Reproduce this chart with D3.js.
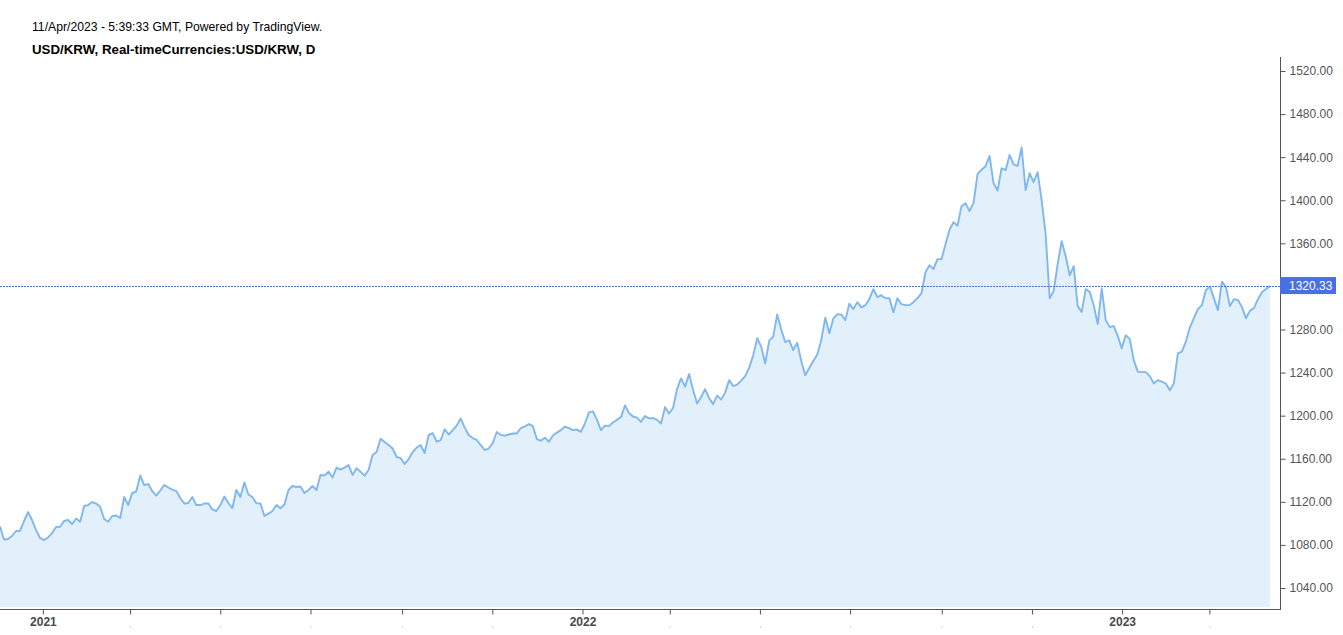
<!DOCTYPE html>
<html>
<head>
<meta charset="utf-8">
<script src="https://cdn.jsdelivr.net/npm/d3@7"></script>
<style>
  html, body { margin: 0; padding: 0; background: #ffffff; }
  svg { display: block; font-family: "Liberation Sans", Arial, sans-serif; }
</style>
</head>
<body>
<svg id="chart" width="1343" height="635"></svg>
<script>
// ---------------- DATA ----------------
const titleLine1 = "11/Apr/2023 - 5:39:33 GMT, Powered by TradingView.";
const titleLine2 = "USD/KRW, Real-timeCurrencies:USD/KRW, D";
const startDate = "2020-12-03";
const endDate = "2023-04-11";
const lastPrice = 1320.33;
const values = [
  1097, 1085.0, 1085.5, 1088.3, 1092.9, 1093.2, 1102.2, 1110.5, 1103.1, 1093.8,
  1086.4, 1084.5, 1086.9, 1091.0, 1096.6, 1096.9, 1102.2, 1103.1, 1099.4, 1104.5,
  1101.5, 1116.1, 1117.0, 1119.8, 1118.4, 1115.4, 1104.0, 1101.5, 1106.8, 1107.3,
  1105.0, 1124.5, 1117.0, 1128.2, 1129.6, 1144.5, 1135.6, 1136.5, 1130.0, 1125.8,
  1130.5, 1135.6, 1133.3, 1131.4, 1130.0, 1123.5, 1118.4, 1118.9, 1124.5, 1117.0,
  1117.0, 1118.4, 1118.6, 1112.9, 1111.5, 1117.0, 1124.9, 1118.9, 1114.2, 1131.0,
  1124.5, 1138.0, 1126.8, 1124.5, 1118.6, 1118.6, 1106.8, 1109.1, 1111.5, 1117.0,
  1114.0, 1117.5, 1131.0, 1134.7, 1133.8, 1134.2, 1128.2, 1131.0, 1134.7, 1131.0,
  1144.9, 1144.4, 1148.1, 1142.5, 1151.8, 1149.9, 1151.8, 1154.1, 1144.9, 1151.3,
  1148.0, 1144.3, 1149.5, 1163.4, 1166.2, 1178.5, 1175.5, 1172.7, 1169.5, 1161.6,
  1160.6, 1155.1, 1159.7, 1166.2, 1170.4, 1172.7, 1165.3, 1182.0, 1183.8, 1175.8,
  1177.4, 1187.3, 1182.5, 1186.6, 1190.8, 1197.3, 1188.9, 1182.0, 1179.2, 1177.4,
  1172.7, 1168.1, 1169.5, 1174.6, 1184.8, 1182.0, 1181.5, 1182.5, 1183.4, 1183.4,
  1188.5, 1190.1, 1192.2, 1190.3, 1178.3, 1176.7, 1179.6, 1175.8, 1181.5, 1184.3,
  1186.6, 1189.9, 1188.5, 1186.6, 1187.1, 1185.0, 1192.7, 1203.0, 1204.0, 1196.4,
  1186.6, 1190.8, 1190.3, 1193.6, 1196.1, 1198.7, 1209.5, 1202.4, 1199.2, 1198.2,
  1194.3, 1199.6, 1197.5, 1197.8, 1196.1, 1192.8, 1208.0, 1202.0, 1207.1, 1224.7,
  1234.6, 1227.0, 1238.6, 1223.8, 1211.3, 1217.3, 1224.7, 1216.3, 1210.7, 1218.6,
  1214.9, 1221.4, 1233.0, 1227.5, 1228.9, 1232.6, 1236.7, 1244.6, 1255.8, 1272.0,
  1264.1, 1248.5, 1269.7, 1273.4, 1294.0, 1279.9, 1268.3, 1270.0, 1260.9, 1267.7,
  1250.7, 1237.6, 1244.2, 1250.7, 1256.7, 1270.2, 1291.0, 1276.6, 1290.1, 1294.3,
  1293.8, 1288.7, 1304.0, 1298.9, 1305.4, 1300.5, 1302.6, 1308.2, 1317.5, 1310.1,
  1311.9, 1309.1, 1309.1, 1296.1, 1309.1, 1303.5, 1302.6, 1302.6, 1305.4, 1309.1,
  1313.5, 1333.2, 1339.7, 1336.0, 1345.3, 1345.3, 1359.2, 1372.7, 1379.6, 1376.4,
  1394.5, 1397.3, 1389.9, 1397.3, 1424.2, 1428.4, 1431.6, 1441.0, 1415.9, 1409.0,
  1429.7, 1427.9, 1442.0, 1433.4, 1431.8, 1449.0, 1409.4, 1425.1, 1416.8, 1426.1,
  1400.1, 1368.6, 1309.0, 1315.6, 1340.7, 1362.0, 1348.1, 1330.4, 1338.8, 1301.7,
  1296.4, 1317.5, 1315.0, 1302.6, 1285.0, 1318.0, 1288.7, 1282.2, 1283.1, 1273.9,
  1262.5, 1274.8, 1271.1, 1251.6, 1240.9, 1240.4, 1240.4, 1236.7, 1230.0, 1233.0,
  1231.5, 1229.8, 1223.5, 1230.0, 1257.8, 1259.5, 1268.8, 1281.8, 1290.5, 1298.9,
  1302.6, 1316.6, 1320.0, 1309.1, 1298.0, 1324.4, 1319.3, 1301.7, 1308.2, 1307.3,
  1300.8, 1290.5, 1297.5, 1299.8, 1308.1, 1314.6, 1317.5, 1320.33
];
const yTicks = [1040, 1080, 1120, 1160, 1200, 1240, 1280, 1320, 1360, 1400, 1440, 1480, 1520];
const xTickDates = ["2021-01-01", "2021-03-01", "2021-05-01", "2021-07-01", "2021-09-01", "2021-11-01",
  "2022-01-01", "2022-03-01", "2022-05-01", "2022-07-01", "2022-09-01", "2022-11-01",
  "2023-01-01", "2023-03-01"];
const xTickLabels = ["2021", "", "", "", "", "", "2022", "", "", "", "", "", "2023", ""];

// ---------------- LAYOUT ----------------
const svg = d3.select("#chart");
const parse = d3.utcParse("%Y-%m-%d");
const t0 = parse(startDate), t1 = parse(endDate);
const n = values.length;
const data = values.map((v, i) => ({
  date: new Date(t0.getTime() + (t1.getTime() - t0.getTime()) * i / (n - 1)),
  value: v
}));

const plotLeft = 0, plotRight = 1270, axisX = 1280;
const plotTop = 57, axisY = 609, fillBottom = 607;

const x = d3.scaleUtc().domain([t0, t1]).range([plotLeft, plotRight]);
const y = d3.scaleLinear().domain([1040, 1520]).range([588, 71]);

// area fill
const area = d3.area()
  .x(d => x(d.date))
  .y0(fillBottom)
  .y1(d => y(d.value));
svg.append("path").datum(data)
  .attr("d", area)
  .attr("fill", "#e1f0fa");

// line
const line = d3.line()
  .x(d => x(d.date))
  .y(d => y(d.value));
svg.append("path").datum(data)
  .attr("d", line)
  .attr("fill", "none")
  .attr("stroke", "#80b7ee")
  .attr("stroke-width", 1.9)
  .attr("stroke-linejoin", "round");

// last price dotted line
svg.append("line")
  .attr("x1", 0).attr("x2", axisX)
  .attr("y1", Math.round(y(lastPrice)) + 0.5).attr("y2", Math.round(y(lastPrice)) + 0.5)
  .attr("stroke", "#4a6fe3")
  .attr("stroke-width", 1)
  .attr("stroke-dasharray", "2,1");

// right axis
const yAxis = d3.axisRight(y)
  .tickValues(yTicks.filter(v => v !== 1320))
  .tickSize(5)
  .tickPadding(4)
  .tickFormat(d => d3.format(".2f")(d));
const gy = svg.append("g").attr("transform", `translate(${axisX + 0.5},0)`).call(yAxis);
gy.select(".domain").remove();
gy.selectAll(".tick line").attr("stroke", "#555");
gy.selectAll(".tick text")
  .attr("fill", "#555")
  .attr("font-size", 12)
  .attr("font-family", "Liberation Sans, Arial, sans-serif");
svg.append("line")
  .attr("x1", axisX + 0.5).attr("x2", axisX + 0.5)
  .attr("y1", plotTop).attr("y2", axisY + 1)
  .attr("stroke", "#555").attr("stroke-width", 1);

// bottom axis
const xAxis = d3.axisBottom(x)
  .tickValues(xTickDates.map(parse))
  .tickSize(5)
  .tickPadding(3)
  .tickFormat((d, i) => xTickLabels[i]);
const gx = svg.append("g").attr("transform", `translate(0,${axisY + 0.5})`).call(xAxis);
gx.select(".domain").remove();
gx.selectAll(".tick line").attr("stroke", "#555");
gx.selectAll(".tick text")
  .attr("fill", "#4a4a4a")
  .attr("font-size", 12)
  .attr("font-weight", "bold")
  .attr("font-family", "Liberation Sans Narrow, Liberation Sans, Arial, sans-serif");
// small dots for unlabeled ticks
gx.selectAll(".tick").filter((d, i) => xTickLabels[i] === "")
  .append("rect")
  .attr("x", -0.5).attr("y", 17).attr("width", 1).attr("height", 1)
  .attr("fill", "#aaa");
svg.append("line")
  .attr("x1", 0).attr("x2", axisX + 1)
  .attr("y1", axisY + 0.5).attr("y2", axisY + 0.5)
  .attr("stroke", "#555").attr("stroke-width", 1);

// last price label
const ly = y(lastPrice);
svg.append("rect")
  .attr("x", axisX).attr("y", ly - 9)
  .attr("width", 56).attr("height", 17)
  .attr("fill", "#4a6fe3");
svg.append("text")
  .attr("x", axisX + 9).attr("y", ly + 4)
  .attr("fill", "#ffffff")
  .attr("font-size", 12)
  .text(d3.format(".2f")(lastPrice));

// titles
svg.append("text")
  .attr("x", 32).attr("y", 31)
  .attr("font-size", 12.2)
  .attr("fill", "#000")
  .text(titleLine1);
svg.append("text")
  .attr("x", 32).attr("y", 54)
  .attr("font-size", 13.3)
  .attr("font-weight", "bold")
  .attr("fill", "#000")
  .text(titleLine2);
</script>
</body>
</html>
